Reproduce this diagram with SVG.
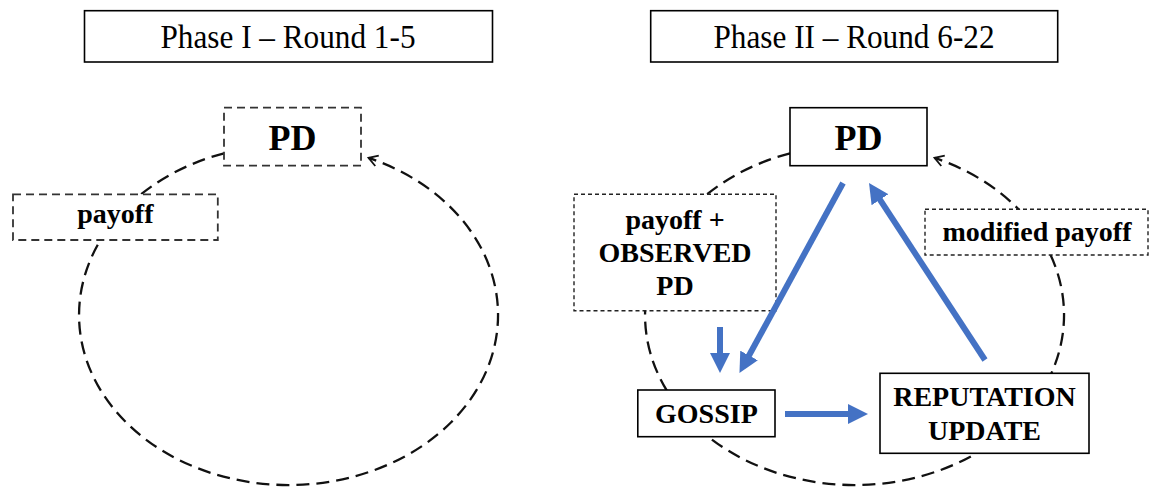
<svg xmlns="http://www.w3.org/2000/svg" width="1157" height="487" viewBox="0 0 1157 487">
<style>
.t{font-family:"Liberation Serif","Times New Roman",serif;fill:#000;text-anchor:middle}
.title{font-size:33px}
.b{font-weight:bold;font-size:28px}
.pd{font-weight:bold;font-size:36px}
.box{fill:#fff;stroke:#000;stroke-width:1.6}
.dbox{fill:#fff;stroke:#333;stroke-width:1.8;stroke-dasharray:8 5}
.fbox{fill:#fff;stroke:#222;stroke-width:1.4;stroke-dasharray:4 3}
.loop{fill:none;stroke:#111;stroke-width:2.3;stroke-dasharray:13 7}
.blue{stroke:#4472C4;stroke-width:6;fill:none}
</style>
<defs>
<marker id="chev" viewBox="-12 -8 14 16" refX="0" refY="0" markerWidth="14" markerHeight="16" markerUnits="userSpaceOnUse" orient="auto" overflow="visible">
<path d="M-9,-5.5 L0,0 L-9,5.5" fill="none" stroke="#111" stroke-width="1.8" stroke-dasharray="none"/>
</marker>
<marker id="bh" viewBox="0 0 20 20" refX="12" refY="10" markerWidth="20" markerHeight="20" markerUnits="userSpaceOnUse" orient="auto">
<path d="M0,0 L20,10 L0,20 z" fill="#4472C4"/>
</marker>
</defs>

<g id="loops">
<path class="loop" d="M224 153.3 A209.5 170 0 1 0 368.5 157.9" marker-end="url(#chev)"/>
<path class="loop" d="M790 153.3 A209.5 170 0 1 0 934.5 157.9" marker-end="url(#chev)"/>
</g>

<g id="title1">
<rect class="box" x="84.5" y="10.7" width="408" height="51.3"/>
<text class="t title" x="288" y="48" textLength="255" lengthAdjust="spacingAndGlyphs">Phase I – Round 1-5</text>
</g>
<g id="title2">
<rect class="box" x="650.7" y="10.7" width="407" height="51.3"/>
<text class="t title" x="854" y="48" textLength="281" lengthAdjust="spacingAndGlyphs">Phase II – Round 6-22</text>
</g>

<g id="pd1">
<rect class="dbox" x="224" y="107.7" width="137" height="58"/>
<text class="t pd" x="292.5" y="149.5">PD</text>
</g>
<g id="payoff1">
<rect class="dbox" x="13" y="194.3" width="204.8" height="45.7"/>
<text class="t b" x="115.4" y="223">payoff</text>
</g>

<g id="pd2">
<rect class="box" x="790" y="107.7" width="137" height="58"/>
<text class="t pd" x="858.5" y="149.5">PD</text>
</g>
<g id="observed">
<rect class="fbox" x="574" y="194.3" width="202" height="116.5"/>
<text class="t b" x="675" y="229">payoff +</text>
<text class="t b" x="675" y="262">OBSERVED</text>
<text class="t b" x="675" y="295">PD</text>
</g>
<g id="modified">
<rect class="fbox" x="925" y="209.3" width="223" height="45.7"/>
<text class="t b" x="1037" y="241">modified payoff</text>
</g>
<g id="gossip">
<rect class="box" x="637.8" y="390" width="137.2" height="46.7"/>
<text class="t b" x="706.4" y="423">GOSSIP</text>
</g>
<g id="reputation">
<rect class="box" x="880" y="373.3" width="209" height="80"/>
<text class="t b" x="984.5" y="405.5">REPUTATION</text>
<text class="t b" x="984.5" y="440">UPDATE</text>
</g>

<g id="connectors">
<line class="blue" x1="843" y1="183" x2="743.3" y2="366" marker-end="url(#bh)"/>
<line class="blue" x1="985" y1="360" x2="873.4" y2="189.7" marker-end="url(#bh)"/>
<line class="blue" x1="785" y1="414" x2="860" y2="414" marker-end="url(#bh)"/>
<line class="blue" x1="720" y1="327" x2="720" y2="365" marker-end="url(#bh)"/>
</g>
</svg>
